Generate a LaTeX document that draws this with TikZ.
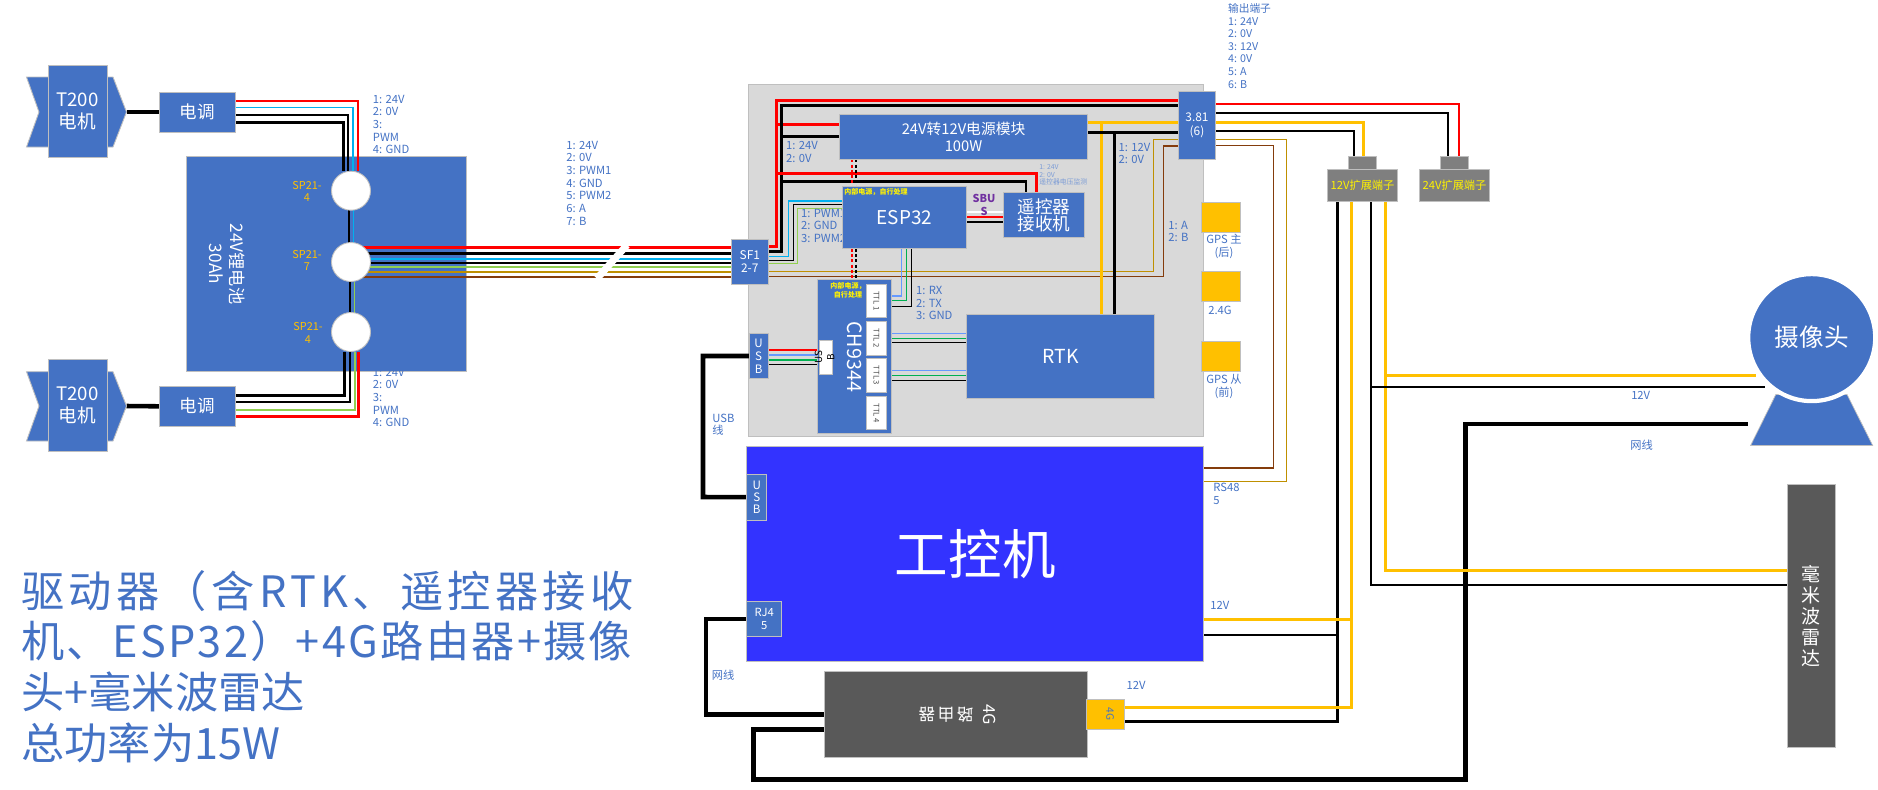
\documentclass[tikz,border=0pt]{standalone}
\usepackage{fontspec}
\setmainfont{Noto Sans CJK SC}
\definecolor{boxblue}{HTML}{4472C4}
\definecolor{ipcblue}{HTML}{3333FF}
\definecolor{darkbox}{HTML}{595959}
\definecolor{termgray}{HTML}{7F7F7F}
\definecolor{edgegray}{HTML}{BFBFBF}
\definecolor{boardgray}{HTML}{D9D9D9}
\definecolor{amber}{HTML}{FFC000}
\definecolor{skyw}{HTML}{00B0F0}
\definecolor{palew}{HTML}{6699FF}
\definecolor{greenw}{HTML}{00B050}
\definecolor{limew}{HTML}{92D050}
\definecolor{goldw}{HTML}{BF9000}
\definecolor{brownw}{HTML}{843C0C}
\definecolor{purplet}{HTML}{7030A0}
\pgfdeclarelayer{boardlayer}
\pgfdeclarelayer{wirelayer}
\pgfsetlayers{boardlayer,wirelayer,main}
\tikzset{
    sz/.style 2 args={minimum width=#1*0.02cm,minimum height=#2*0.02cm},
    fsz/.style 2 args={font=\fontsize{#1}{#2}\selectfont},
    bluebox/.style={draw=edgegray,line width=0.5pt,fill=boxblue,text=white,inner sep=0pt,outer sep=0pt,align=center},
    darkbox/.style={bluebox,fill=darkbox},
    termbox/.style={bluebox,fill=termgray,text=yellow},
    amberbox/.style={bluebox,fill=amber,text=boxblue},
    whitebox/.style={bluebox,fill=white,text=black!70},
    spot/.style={draw=edgegray,line width=0.5pt,fill=white,circle,sz={39}{39},inner sep=0pt,outer sep=0pt},
    note/.style={text=boxblue,align=left,anchor=north west,inner sep=0pt,fsz={6.4}{7.2}},
    cnote/.style={text=boxblue,align=center,inner sep=0pt,fsz={6.4}{7.4}},
    sptext/.style={text=amber,align=center,inner sep=0pt,fsz={6.2}{7.2}},
    hint/.style={text=yellow,align=center,inner sep=0pt,font=\fontsize{4}{5.1}\selectfont\bfseries},
    wirebig/.style={black,line width=2.6pt},
    wiremid/.style={line width=1.7pt},
    wiresm/.style={line width=1.25pt},
    wireamb/.style={amber,line width=1.6pt},
    wirefine/.style={line width=0.8pt},
    dotw/.style={line width=1.1pt,dash pattern=on 1.7pt off 1.3pt}
}
\begin{document}
\begin{tikzpicture}[x=0.02cm,y=-0.02cm]
    \useasboundingbox (0,0) rectangle (1878,789);
    \begin{pgfonlayer}{boardlayer}
        \node[draw=edgegray,line width=0.5pt,fill=boardgray,sz={455.4}{351.7},inner sep=0pt,outer sep=0pt] (board) at (976,260.2) {};
        \node[bluebox,sz={280}{215}] (batt) at (326.5,263.5) {};
    \end{pgfonlayer}

    \node[text=white,rotate=-90,align=center,fsz={9.8}{12.3},inner sep=0pt] (batttext) at (227,264) {24V锂电池\\30Ah};
    \node[spot] (spA) at (351,190.7) {};
    \node[spot] (spB) at (351,262) {};
    \node[spot] (spC) at (351,332) {};
    \node[sptext] (spAtext) at (307,191.5) {SP21-\\4};
    \node[sptext] (spBtext) at (307,260.5) {SP21-\\7};
    \node[sptext] (spCtext) at (308,333) {SP21-\\4};

    \draw[fill=boxblue,draw=edgegray,line width=0.5pt] (26.5,77) -- (113,77) -- (126.5,112) -- (113,147) -- (26.5,147) -- (39,112) -- cycle;
    \coordinate (tipA) at (126.5,112);
    \node[bluebox,sz={59}{92},fsz={10.6}{12.5}] (motorA) at (77.5,111) {T200\\电机};
    \draw[fill=boxblue,draw=edgegray,line width=0.5pt] (26.5,371.7) -- (113,371.7) -- (126.5,406) -- (113,441) -- (26.5,441) -- (39,406) -- cycle;
    \coordinate (tipB) at (126.5,406);
    \node[bluebox,sz={59}{92},fsz={10.6}{12.5}] (motorB) at (77.5,405) {T200\\电机};
    \node[bluebox,sz={76.5}{40},fsz={10}{12}] (escA) at (197.2,112) {电调};
    \node[bluebox,sz={76.5}{40},fsz={10}{12}] (escB) at (197.2,406.3) {电调};

    \node[note] (noteEscA) at (372.6,94.5) {1: 24V\\2: 0V\\3:\\PWM\\4: GND};
    \node[note] (noteEscB) at (372.6,367.5) {1: 24V\\2: 0V\\3:\\PWM\\4: GND};
    \node[note] (noteBus) at (566,140.5) {1: 24V\\2: 0V\\3: PWM1\\4: GND\\5: PWM2\\6: A\\7: B};

    \node[bluebox,sz={37.7}{45},fsz={6.8}{7.5}] (sfA) at (749.8,261.5) {SF1\\2-7};
    \node[bluebox,sz={37.4}{67.6},fsz={6.8}{7.8}] (outA) at (1197,125.5) {3.81\\(6)};
    \node[bluebox,sz={247.6}{44.6},fsz={8.4}{9.6}] (pwr) at (963.5,137) {24V转12V电源模块\\100W};
    \node[note] (note24) at (785.7,141) {1: 24V\\2: 0V};
    \node[note] (note12) at (1118.3,142.5) {1: 12V\\2: 0V};
    \node[note,text=boxblue!70,fsz={3.9}{4.4}] (noteRc) at (1039,164) {1: 24V\\2: 0V\\遥控器电压监测};
    \node[note] (notePwm) at (800.7,208.5) {1: PWM1\\2: GND\\3: PWM2};
    \node[bluebox,sz={123.6}{62},fsz={10.8}{16}] (esp) at (904.5,217.7) {ESP32};
    \node[hint,anchor=west] (espHint) at (844,191.7) {内部电源，自行处理};
    \node[bluebox,sz={81}{44.6},fsz={10}{9.6}] (recv) at (1043.8,215) {遥控器\\接收机};
    \node[note] (noteAB) at (1168,220.5) {1: A\\2: B};

    \node[bluebox,sz={74.3}{153.6}] (ch) at (854.2,356.5) {};
    \node[text=white,rotate=-90,inner sep=0pt,fsz={11.2}{14}] (chtext) at (855,356.7) {CH9344};
    \node[hint] (chHint) at (848,290.2) {内部电源，\\自行处理};
    \node[whitebox,sz={20.4}{33.7}] (ttlA) at (876.5,300.8) {};
    \node[whitebox,sz={20.4}{33.7}] (ttlB) at (876.5,338.2) {};
    \node[whitebox,sz={20.4}{34.4}] (ttlC) at (876.5,375.5) {};
    \node[whitebox,sz={20.4}{33}] (ttlD) at (876.5,413.2) {};
    \node[rotate=-90,text=black!70,inner sep=0pt,fsz={4.4}{5}] (ttlAtext) at (876.5,300.8) {TTL 1};
    \node[rotate=-90,text=black!70,inner sep=0pt,fsz={4.4}{5}] (ttlBtext) at (876.5,338.2) {TTL 2};
    \node[rotate=-90,text=black!70,inner sep=0pt,fsz={4.4}{5}] (ttlCtext) at (876.5,375.5) {TTL 3};
    \node[rotate=-90,text=black!70,inner sep=0pt,fsz={4.4}{5}] (ttlDtext) at (876.5,413.2) {TTL 4};
    \node[whitebox,sz={13.7}{34.4}] (usbIn) at (825.8,357.5) {};
    \node[rotate=90,text=black,align=center,inner sep=0pt,fsz={5.6}{7}] (usbIntext) at (824.5,357) {US\\B};
    \node[note] (noteTtl) at (915.7,285.8) {1: RX\\2: TX\\3: GND};
    \node[bluebox,sz={187.6}{83.7},fsz={11}{14}] (rtk) at (1060.5,356.2) {RTK};
    \node[bluebox,sz={19.3}{44.6},fsz={6.6}{7.5}] (usbA) at (758.6,356) {U\\S\\B};

    \node[bluebox,fill=amber,sz={39}{29.3}] (gpsA) at (1220.8,217.3) {};
    \node[bluebox,fill=amber,sz={39}{29.7}] (wifi) at (1220.8,286.2) {};
    \node[bluebox,fill=amber,sz={39}{29.7}] (gpsB) at (1220.8,356.2) {};
    \node[cnote] (gpsAtext) at (1224,246) {GPS 主\\(后)};
    \node[cnote] (wifitext) at (1220,310) {2.4G};
    \node[cnote] (gpsBtext) at (1224,386.5) {GPS 从\\(前)};

    \node[bluebox,fill=ipcblue,sz={457}{214.3},fsz={30.5}{32}] (ipc) at (975.2,553.8) {工控机};
    \node[bluebox,sz={20}{45.7},fsz={6.6}{7}] (usbB) at (756.7,497.2) {U\\S\\B};
    \node[bluebox,sz={35}{35.4},fsz={6.4}{7.4}] (rj) at (764.3,619) {RJ4\\5};
    \node[note] (noteUsb) at (712,413.5) {USB\\线};
    \node[note] (noteRs) at (1213,483) {RS48\\5};
    \node[note,anchor=west] (noteIpc12) at (1210,605) {12V};
    \node[cnote] (noteNet) at (723,675.3) {网线};

    \node[darkbox,sz={263.2}{86}] (router) at (955.9,714.3) {};
    \node[text=white,rotate=180,inner sep=0pt,fsz={9.4}{11}] (routertext) at (946,714.3) {路\hspace{1.5pt}由\hspace{1.5pt}器};
    \node[text=white,rotate=-90,inner sep=0pt,fsz={9.4}{11}] (routertag) at (990,714.3) {4G};
    \node[amberbox,sz={38.2}{30.4}] (lte) at (1105.5,714.5) {};
    \node[rotate=-90,text=boxblue,inner sep=0pt,fsz={5.8}{7}] (ltetext) at (1110,714) {4G};
    \node[cnote] (noteLte) at (1136,685.3) {12V};

    \node[termbox,sz={70.4}{32},fsz={6.4}{7}] (termA) at (1362.5,185.3) {12V扩展端子};
    \node[termbox,sz={28.4}{13.4}] (termAtop) at (1362.5,162.8) {};
    \node[termbox,sz={70.4}{32},fsz={6.4}{7}] (termB) at (1454.5,185.3) {24V扩展端子};
    \node[termbox,sz={28.4}{13.4}] (termBtop) at (1454.5,162.8) {};
    \node[note,fsz={6.1}{7.2}] (noteOut) at (1227.7,3) {输出端子\\1: 24V\\2: 0V\\3: 12V\\4: 0V\\5: A\\6: B};

    \draw[fill=boxblue,draw=edgegray,line width=0.4pt] (1775.8,394.5) -- (1847,394.5) -- (1872.7,445.5) -- (1750.6,445.5) -- cycle;
    \node[circle,fill=boxblue,draw=white,line width=2.4pt,sz={127}{127},inner sep=0pt,outer sep=0pt,text=white,fsz={14}{16}] (cam) at (1811.7,337.6) {摄像头};
    \node[cnote] (noteCam12) at (1640.7,395) {12V};
    \node[cnote] (noteCamNet) at (1641.5,445) {网线};
    \node[darkbox,sz={47.5}{263},fsz={10.8}{12}] (radar) at (1811.2,616.3) {毫\\米\\波\\雷\\达};

    \node[text=boxblue,align=left,anchor=north west,inner sep=0pt,fsz={24.6}{28.8}] (summary) at (21,570) {{\addfontfeature{LetterSpace=10}驱动器（含RTK、遥控器接收}\\{\addfontfeature{LetterSpace=5.3}机、ESP32）+4G路由器+摄像}\\头+毫米波雷达\\总功率为15W};

    \begin{pgfonlayer}{wirelayer}
        \draw[wirebig] (tipA) -- (escA.west);
        \draw[wirebig] (tipB) -- (escB.west);
        \draw[wiresm,red] (escA.east |- 0,101) -| (spA.north -| 358,0);
        \draw[wirefine,skyw] (escA.east |- 0,107.7) -| (spA.north -| 353,0);
        \draw[wirefine,black] (escA.east |- 0,115) -| (spA.north -| 348,0);
        \draw[wiremid,black] (escA.east |- 0,122.7) -| (spA.north -| 343.7,0);
        \draw[wirefine,black] (spA.south -| 349,0) -- (spB.north -| 349,0);
        \draw[wirefine,skyw] (spA.south -| 353.5,0) -- (spB.north -| 353.5,0);
        \draw[wirefine,black] (spB.south -| 350,0) -- (spC.north -| 350,0);
        \draw[wirefine,limew] (spB.south -| 354.7,0) -- (spC.north -| 354.7,0);
        \draw[wiremid,black] (escB.east |- 0,395) -| (spC.south -| 344.6,0);
        \draw[wirefine,black] (escB.east |- 0,402) -| (spC.south -| 350,0);
        \draw[wirefine,limew] (escB.east |- 0,410) -| (spC.south -| 355,0);
        \draw[wiremid,red] (escB.east |- 0,416) -| (spC.south -| 358.5,0);

        \draw[wiremid,red] (spB.center |- 0,247.3) -- (sfA.west |- 0,247.3);
        \draw[wiremid,black] (spB.center |- 0,253.3) -- (sfA.west |- 0,253.3);
        \draw[wiresm,skyw] (spB.center |- 0,259.3) -- (sfA.west |- 0,259.3);
        \draw[wiresm,black] (spB.center |- 0,263.3) -- (sfA.west |- 0,263.3);
        \draw[wiresm,limew] (spB.center |- 0,267.3) -- (sfA.west |- 0,267.3);
        \draw[wiresm,goldw] (spB.center |- 0,272) -- (sfA.west |- 0,272);
        \draw[wiresm,brownw] (spB.center |- 0,276.7) -- (sfA.west |- 0,276.7);
        \draw[white,line width=4pt] (627,245) -- (597,278.5);

        \coordinate (redbus) at (776,100.3);
        \coordinate (blackbus) at (781.7,105);
        \draw[wiremid,red] (sfA.east |- 0,246) -| (redbus) -- (outA.west |- redbus);
        \draw[wiremid,black] (sfA.east |- 0,251.7) -| (blackbus) -- (outA.west |- blackbus);
        \draw[wiremid,red] (pwr.west |- 0,124) -| (redbus);
        \draw[wiremid,black] (pwr.west |- 0,136) -| (blackbus);
        \draw[wiremid,red] (recv.north -| 1036,0) |- (redbus |- 0,173.3);
        \draw[wiresm,black,line width=1.5pt] (recv.north -| 1026,0) |- (blackbus |- 0,181.3);
        \draw[wirefine,skyw] (sfA.east |- 0,256.7) -| (788.3,201) -- (esp.west |- 0,201);
        \draw[wirefine,black] (sfA.east |- 0,260.7) -| (793.3,204.3) -- (esp.west |- 0,204.3);
        \draw[wirefine,limew] (sfA.east |- 0,263.3) -| (797.7,208.3) -- (esp.west |- 0,208.3);
        \draw[wirefine,goldw] (sfA.east |- 0,271.3) -| (1153.3,139.3) -- (outA.west |- 0,139.3);
        \draw[wirefine,brownw] (sfA.east |- 0,276.3) -| (1163.7,146) -- (outA.west |- 0,146);

        \draw[wiremid,amber] (pwr.east |- 0,122.3) -- (outA.west |- 0,122.3);
        \draw[wiremid,black] (pwr.east |- 0,132.3) -- (outA.west |- 0,132.3);
        \draw[wiremid,amber] (pwr.east |- 0,122.3) -| (rtk.north -| 1101.3,0);
        \draw[wiremid,black] (pwr.east |- 0,132.3) -| (rtk.north -| 1114.3,0);

        \draw[dotw,red] (pwr.south -| 851.7,0) -- (esp.north -| 851.7,0);
        \draw[dotw,black] (pwr.south -| 856.3,0) -- (esp.north -| 856.3,0);
        \draw[dotw,red] (esp.south -| 851.7,0) -- (ch.north -| 851.7,0);
        \draw[dotw,black] (esp.south -| 856.3,0) -- (ch.north -| 856.3,0);

        \draw[white,line width=1.3pt] (esp.east |- 0,211.7) -- (recv.west |- 0,211.7);
        \draw[red,line width=0.9pt] (esp.east |- 0,217) -- (recv.west |- 0,217);
        \draw[black,line width=0.9pt] (esp.east |- 0,222) -- (recv.west |- 0,222);

        \draw[wirefine,palew] (esp.south -| 901.7,0) |- (ttlA.east |- 0,296);
        \draw[wirefine,greenw] (esp.south -| 906.7,0) |- (ttlA.east |- 0,300.3);
        \draw[wirefine,black] (esp.south -| 911.7,0) |- (ttlA.east |- 0,306.3);
        \draw[wirefine,palew] (ttlB.east |- 0,333.3) -- (rtk.west |- 0,333.3);
        \draw[wirefine,greenw] (ttlB.east |- 0,338.3) -- (rtk.west |- 0,338.3);
        \draw[wirefine,black] (ttlB.east |- 0,342.3) -- (rtk.west |- 0,342.3);
        \draw[wirefine,palew] (ttlC.east |- 0,370.3) -- (rtk.west |- 0,370.3);
        \draw[wirefine,greenw] (ttlC.east |- 0,375.3) -- (rtk.west |- 0,375.3);
        \draw[wirefine,black] (ttlC.east |- 0,380.3) -- (rtk.west |- 0,380.3);
        \draw[wirefine,red] (usbA.east |- 0,350) -- (usbIn.west |- 0,350);
        \draw[wirefine,palew] (usbA.east |- 0,355) -- (usbIn.west |- 0,355);
        \draw[wirefine,greenw] (usbA.east |- 0,360) -- (usbIn.west |- 0,360);
        \draw[wirefine,black] (usbA.east |- 0,364.3) -- (usbIn.west |- 0,364.3);

        \draw[wirebig] (usbA.west) -| (703,497) -- (usbB.west);
        \draw[wirebig] (rj.west) -| (706,714.3) -- (router.west);
        \draw[wirebig] (router.west |- 0,729.3) -| (753.6,779.5) -| (1465.4,424) -- (cam.west |- 0,424);

        \draw[wiresm,red] (outA.east |- 0,104.3) -| (termBtop.north -| 1458.7,0);
        \draw[wiresm,black] (outA.east |- 0,113.3) -| (termBtop.north -| 1448.3,0);
        \draw[wireamb] (outA.east |- 0,122.3) -| (termAtop.north -| 1363.3,0);
        \draw[wiresm,black] (outA.east |- 0,131.3) -| (termAtop.north -| 1354,0);
        \draw[wirefine,goldw] (outA.east |- 0,139.7) -| (1286.7,481.6) -- (ipc.east |- 0,481.6);
        \draw[wirefine,brownw] (outA.east |- 0,145.7) -| (1273.3,467.8) -- (ipc.east |- 0,467.8);

        \draw[wiresm,black] (termA.south -| 1337.5,0) |- (lte.east |- 0,721.5);
        \draw[wireamb] (termA.south -| 1351.4,0) |- (lte.east |- 0,707.5);
        \draw[wiresm,black] (ipc.east |- 0,634.6) -- (1337.5,634.6);
        \draw[wireamb] (ipc.east |- 0,619.5) -- (1351.4,619.5);
        \draw[wiresm,black] (termA.south -| 1371,0) |- (radar.west |- 0,585.3);
        \draw[wireamb] (termA.south -| 1385.7,0) |- (radar.west |- 0,570.8);
        \draw[wireamb] (1385.7,375.5) -- (1756,375.5);
        \draw[wiresm,black] (1371,386.7) -- (1765,386.7);
    \end{pgfonlayer}

    \node[text=purplet,align=center,inner sep=0pt,font=\fontsize{6.2}{7.6}\selectfont\bfseries] (sbus) at (984,205) {SBU\\S};
\end{tikzpicture}
\end{document}
